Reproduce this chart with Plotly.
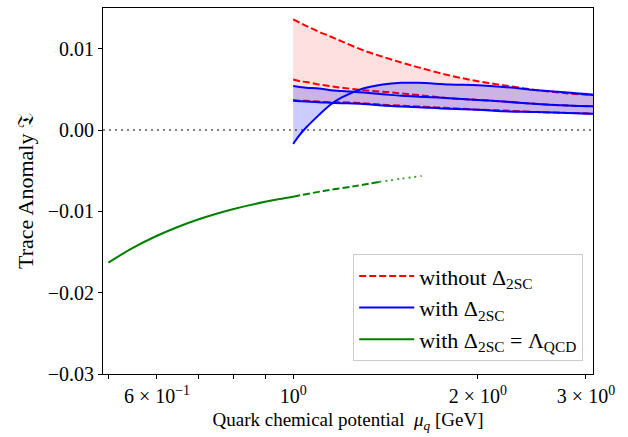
import numpy as np
import plotly.graph_objects as go

# ---------------- data ----------------
mu = [1.0, 1.025, 1.05, 1.1, 1.15, 1.2, 1.3, 1.4, 1.5, 1.6, 1.8, 2.0, 2.2, 2.5, 2.8, 3.1]

# without Delta_2SC (red dashed)
red_upper = [0.0136, 0.0132, 0.0128, 0.0121, 0.0115, 0.0109, 0.0098, 0.0090, 0.0083, 0.0077,
             0.0067, 0.0060, 0.0055, 0.0049, 0.0045, 0.0043]
red_mid = [0.0062, 0.0060, 0.0059, 0.0056, 0.0054, 0.0052, 0.0049, 0.0047, 0.0045, 0.0043,
           0.0039, 0.0037, 0.0035, 0.0032, 0.0030, 0.0029]
red_lower = [0.0037, 0.0036, 0.0036, 0.0035, 0.0034, 0.0034, 0.0033, 0.0031, 0.0030, 0.0029,
             0.0027, 0.0025, 0.0024, 0.0022, 0.0021, 0.0020]

# with Delta_2SC (blue)
blue_curve = [-0.0017, -0.0006, 0.0003, 0.0018, 0.0031, 0.0040, 0.0051, 0.0056, 0.0058, 0.0058,
              0.0056, 0.0055, 0.0053, 0.0049, 0.0046, 0.0043]
blue_mid = [0.0054, 0.0053, 0.0052, 0.0051, 0.0049, 0.0048, 0.0046, 0.0044, 0.0042, 0.0041,
            0.0039, 0.0037, 0.0035, 0.0032, 0.0030, 0.0029]
blue_lower = [0.0036, 0.00355, 0.0035, 0.0034, 0.00335, 0.0033, 0.0032, 0.0030, 0.0029, 0.0028,
              0.0026, 0.0025, 0.0023, 0.0022, 0.0021, 0.0020]

# with Delta_2SC = Lambda_QCD (green)
mu_green_solid = [0.5, 0.55, 0.6, 0.65, 0.7, 0.75, 0.8, 0.85, 0.9, 0.95, 1.0]
green_solid = [-0.0163, -0.01443, -0.0130, -0.01189, -0.01101, -0.0103, -0.00972, -0.00924,
               -0.00883, -0.00849, -0.0082]
mu_green_dash = [1.0, 1.12, 1.26, 1.38]
green_dash = [-0.0082, -0.0075, -0.0069, -0.00638]
mu_green_dot = [1.38, 1.5, 1.62]
green_dot = [-0.00638, -0.0060, -0.00565]

x_tickvals = [0.6, 1.0, 2.0, 3.0]
x_ticktext = ["6 × 10<sup>−1</sup>", "10<sup>0</sup>", "2 × 10<sup>0</sup>", "3 × 10<sup>0</sup>"]
x_minor_tickvals = [0.5, 0.7, 0.8, 0.9]
y_tickvals = [-0.03, -0.02, -0.01, 0.0, 0.01]
y_ticktext = ["−0.03", "−0.02", "−0.01", "0.00", "0.01"]

# ---------------- figure ----------------
FONT = "Liberation Serif"
fig = go.Figure()

mu_arr = np.array(mu)
red_stack = np.array([red_upper, red_mid, red_lower])
blue_stack = np.array([blue_curve, blue_mid, blue_lower])

# pink band (envelope of red curves)
r_hi, r_lo = red_stack.max(axis=0), red_stack.min(axis=0)
fig.add_trace(go.Scatter(x=np.concatenate([mu_arr, mu_arr[::-1]]),
                         y=np.concatenate([r_hi, r_lo[::-1]]),
                         fill="toself", fillcolor="rgba(255,0,0,0.12)",
                         line=dict(width=0), mode="lines", line_shape="spline",
                         showlegend=False, hoverinfo="skip"))

DASH = "7px,3px"
for i, yy in enumerate([red_upper, red_mid, red_lower]):
    fig.add_trace(go.Scatter(x=mu, y=yy, mode="lines", line_shape="spline",
                             line=dict(color="red", width=2, dash=DASH),
                             name="without Δ<sub>2SC</sub>",
                             showlegend=(i == 0), legendrank=1))

# blue band (envelope of blue curves)
b_hi, b_lo = blue_stack.max(axis=0), blue_stack.min(axis=0)
fig.add_trace(go.Scatter(x=np.concatenate([mu_arr, mu_arr[::-1]]),
                         y=np.concatenate([b_hi, b_lo[::-1]]),
                         fill="toself", fillcolor="rgba(0,0,255,0.2)",
                         line=dict(width=0), mode="lines", line_shape="spline",
                         showlegend=False, hoverinfo="skip"))

for i, yy in enumerate([blue_curve, blue_mid, blue_lower]):
    fig.add_trace(go.Scatter(x=mu, y=yy, mode="lines", line_shape="spline",
                             line=dict(color="blue", width=2),
                             name="with Δ<sub>2SC</sub>",
                             showlegend=(i == 0), legendrank=2))

fig.add_trace(go.Scatter(x=mu_green_solid, y=green_solid, mode="lines", line_shape="spline",
                         line=dict(color="green", width=2),
                         name="with Δ<sub>2SC</sub> = Λ<sub>QCD</sub>", legendrank=3))
fig.add_trace(go.Scatter(x=mu_green_dash, y=green_dash, mode="lines", line_shape="spline",
                         line=dict(color="green", width=2, dash=DASH), showlegend=False))
fig.add_trace(go.Scatter(x=mu_green_dot, y=green_dot, mode="lines", line_shape="spline",
                         line=dict(color="rgba(0,128,0,0.75)", width=2, dash="2px,4px"),
                         showlegend=False))

fig.add_hline(y=0, line=dict(color="gray", width=2, dash="2px,4px"), layer="below")

axis_common = dict(ticks="outside", ticklen=4, tickcolor="black",
                   tickfont=dict(family=FONT, size=20, color="black"),
                   showline=True, linecolor="black", linewidth=1, mirror=True,
                   showgrid=False, zeroline=False)

fig.update_layout(
    width=628, height=437, autosize=False,
    margin=dict(l=103, r=35, t=8, b=63),
    paper_bgcolor="white", plot_bgcolor="white",
    font=dict(family=FONT, size=18, color="black"),
    legend=dict(x=0.98, y=0.035, xanchor="right", yanchor="bottom",
                bgcolor="rgba(255,255,255,0.85)", bordercolor="#cccccc", borderwidth=1,
                font=dict(family=FONT, size=22), itemwidth=55),
    xaxis=dict(type="log", range=[np.log10(0.49), np.log10(3.08)],
               tickmode="array", tickvals=x_tickvals, ticktext=x_ticktext,
               minor=dict(tickmode="array", tickvals=x_minor_tickvals,
                          ticks="outside", ticklen=4, tickcolor="black", showgrid=False),
               title=dict(text="Quark chemical potential\u00a0\u00a0<i>μ</i><sub><i>q</i></sub> [GeV]",
                          standoff=6, font=dict(family=FONT, size=19)),
               **axis_common),
    yaxis=dict(range=[-0.03, 0.015],
               tickmode="array", tickvals=y_tickvals, ticktext=y_ticktext,
               title=dict(text="Trace Anomaly 𝔗", standoff=8, font=dict(family=FONT, size=22)),
               **axis_common),
)

fig.write_html("out.html", config={"displayModeBar": False},
               post_script="document.body.style.margin='0';")
